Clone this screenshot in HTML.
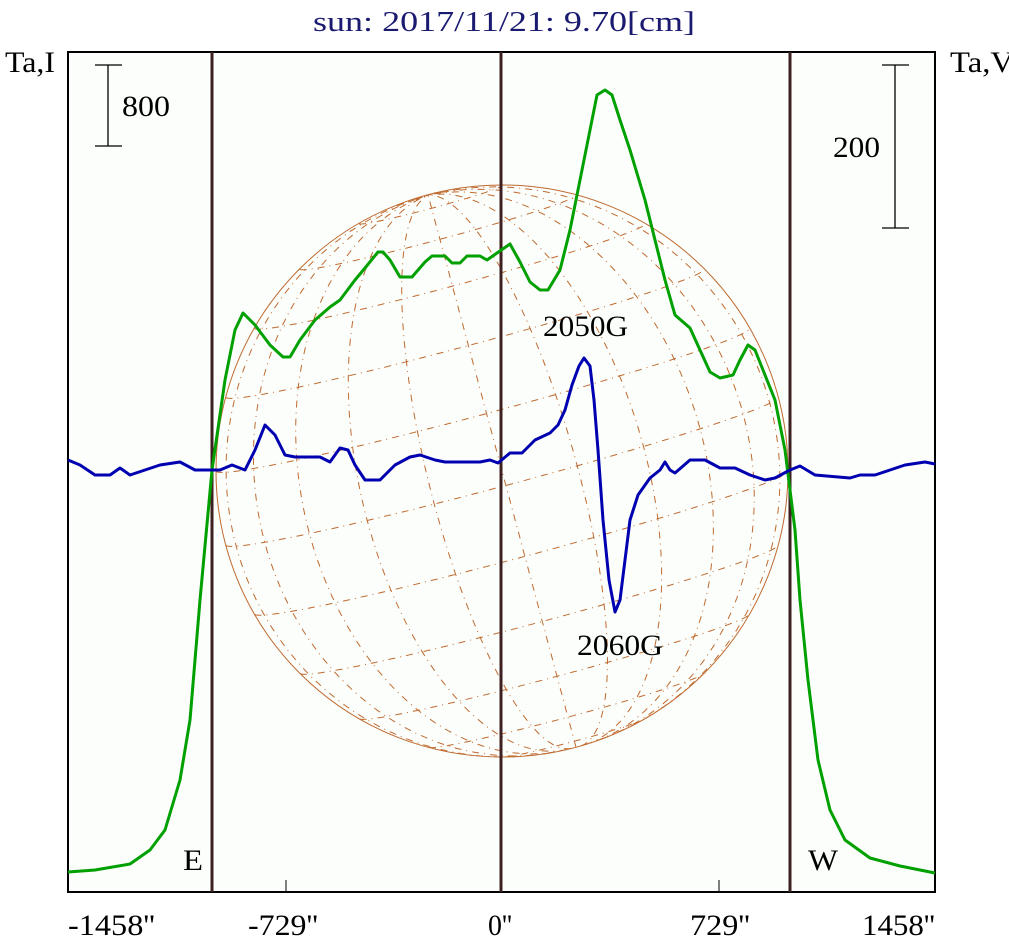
<!DOCTYPE html>
<html><head><meta charset="utf-8"><style>
html,body{margin:0;padding:0;background:#fff;}
svg{display:block;font-family:"Liberation Serif",serif;}
</style></head><body>
<svg id="s" width="1009" height="941" viewBox="0 0 1009 941" xmlns="http://www.w3.org/2000/svg">
<rect x="0" y="0" width="1009" height="941" fill="#fff"/>
<rect x="68" y="52" width="867" height="840" fill="#fbfefb" stroke="#000" stroke-width="2"/>
<g id="grid" fill="none" stroke="#c06a30" stroke-width="1" stroke-dasharray="7,5,1,5"></g>
<circle cx="502" cy="471" r="286" fill="none" stroke="#c06a30" stroke-width="1"/>
<line x1="212" y1="52" x2="212" y2="892" stroke="#3f2020" stroke-width="3"/>
<line x1="501" y1="52" x2="501" y2="892" stroke="#3f2020" stroke-width="3"/>
<line x1="790" y1="52" x2="790" y2="892" stroke="#3f2020" stroke-width="3"/>
<line x1="286" y1="880" x2="286" y2="892" stroke="#000" stroke-width="1"/>
<line x1="719" y1="880" x2="719" y2="892" stroke="#000" stroke-width="1"/>
<g stroke="#000" stroke-width="1.3">
<line x1="108" y1="65" x2="108" y2="146"/><line x1="95" y1="65" x2="122" y2="65"/><line x1="95" y1="146" x2="122" y2="146"/>
<line x1="895" y1="65" x2="895" y2="228"/><line x1="882" y1="65" x2="909" y2="65"/><line x1="882" y1="228" x2="909" y2="228"/>
</g>
<polyline fill="none" stroke="#00a000" stroke-width="3" stroke-linejoin="round" points="68,872 95,870 130,864 150,850 165,830 180,780 190,720 200,600 212,470 225,380 235,330 243,313 255,325 270,345 283,357 290,357 300,340 315,320 330,307 340,300 355,280 365,268 378,252 383,252 390,260 400,277 412,277 425,262 432,256 445,256 452,263 460,263 467,256 480,256 487,260 497,253 510,244 520,262 530,282 540,290 548,290 560,270 570,230 580,180 590,130 597,95 605,90 612,95 620,120 630,150 645,200 655,240 665,280 675,315 690,328 700,350 710,372 720,378 733,375 740,360 748,345 755,350 763,370 775,400 785,450 790,490 795,530 800,600 808,680 818,760 830,810 845,840 870,858 900,866 935,873"/>
<polyline fill="none" stroke="#0000b0" stroke-width="3" stroke-linejoin="round" points="68,460 80,465 95,475 110,475 120,468 130,475 145,470 160,465 180,462 195,470 220,470 232,465 245,470 255,450 265,425 275,435 285,455 295,457 320,457 330,462 340,448 348,450 355,465 365,480 380,480 395,465 410,457 420,455 435,460 445,462 480,462 490,460 498,463 510,453 522,453 535,440 550,433 558,425 565,410 572,385 579,366 584,358 590,366 594,400 598,450 603,520 609,580 615,612 620,600 625,560 630,520 638,495 650,478 660,470 665,462 670,470 675,473 690,460 705,460 720,468 735,468 750,475 765,480 775,478 790,470 800,466 815,475 850,478 860,475 875,475 890,470 905,465 925,462 935,464"/>
<g font-size="30" fill="#000" lengthAdjust="spacingAndGlyphs">
<text x="5" y="72" textLength="50" lengthAdjust="spacingAndGlyphs">Ta,I</text>
<text x="950" y="72" textLength="64" lengthAdjust="spacingAndGlyphs">Ta,V</text>
<text x="122" y="116" textLength="48" lengthAdjust="spacingAndGlyphs">800</text>
<text x="833" y="157" textLength="47" lengthAdjust="spacingAndGlyphs">200</text>
<text x="543" y="336" textLength="85" lengthAdjust="spacingAndGlyphs">2050G</text>
<text x="577" y="655" textLength="86" lengthAdjust="spacingAndGlyphs">2060G</text>
<text x="183" y="870" textLength="20" lengthAdjust="spacingAndGlyphs">E</text>
<text x="808" y="870" textLength="30" lengthAdjust="spacingAndGlyphs">W</text>
<text x="68" y="935" textLength="87" lengthAdjust="spacingAndGlyphs">-1458''</text>
<text x="248" y="935" textLength="70" lengthAdjust="spacingAndGlyphs">-729''</text>
<text x="488" y="935" textLength="24" lengthAdjust="spacingAndGlyphs">0''</text>
<text x="690" y="935" textLength="60" lengthAdjust="spacingAndGlyphs">729''</text>
<text x="862" y="935" textLength="73" lengthAdjust="spacingAndGlyphs">1458''</text>
</g>
<text x="313" y="31" font-size="29" fill="#1a1a70" textLength="382" lengthAdjust="spacingAndGlyphs">sun: 2017/11/21: 9.70[cm]</text>
</svg>
<script>
(function(){
var g=document.getElementById('grid'),cx=502,cy=471,r=286,a=15*Math.PI/180,B=3*Math.PI/180,d=Math.PI/180;
function P(lat,lon){var x=Math.cos(lat)*Math.sin(lon),y=Math.sin(lat)*Math.cos(B)-Math.cos(lat)*Math.cos(lon)*Math.sin(B),z=Math.sin(lat)*Math.sin(B)+Math.cos(lat)*Math.cos(lon)*Math.cos(B);
return [cx+r*(x*Math.cos(a)-y*Math.sin(a)),cy-r*(x*Math.sin(a)+y*Math.cos(a)),z];}
function add(pts){var s='',on=false;pts.forEach(function(p){if(p[2]>=0){s+=(on?'L':'M')+p[0].toFixed(1)+','+p[1].toFixed(1);on=true;}else on=false;});
if(s){var e=document.createElementNS('http://www.w3.org/2000/svg','path');e.setAttribute('d',s);g.appendChild(e);}}
for(var lat=-75;lat<=75;lat+=15){var p=[];for(var l=-90;l<=90;l+=2)p.push(P(lat*d,l*d));add(p);}
for(var lon=-75;lon<=75;lon+=15){var p=[];for(var t=-90;t<=90;t+=2)p.push(P(t*d,lon*d));add(p);}
})();
</script>
</body></html>
